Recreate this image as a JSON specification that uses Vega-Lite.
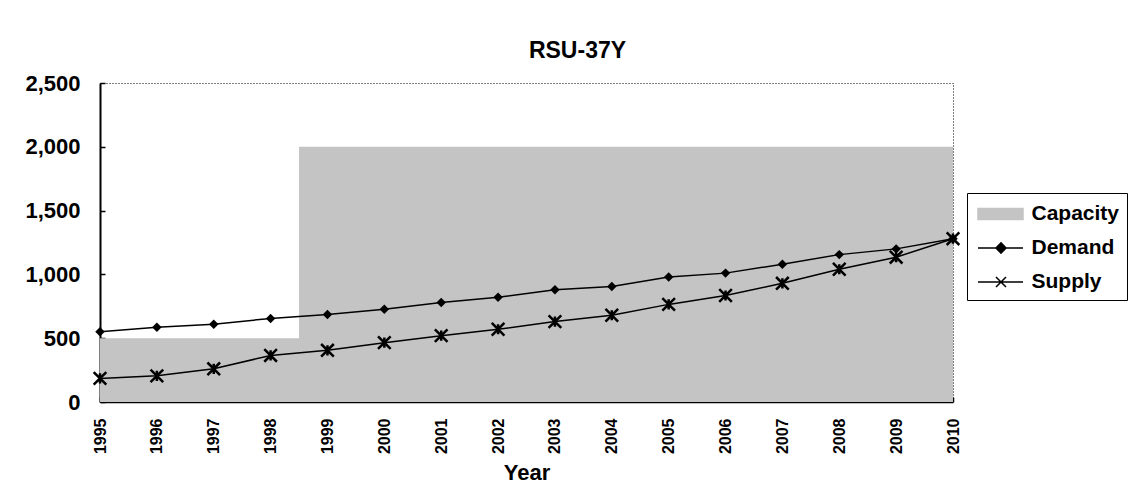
{
  "$schema": "https://vega.github.io/schema/vega-lite/v6.json",
  "width": 853,
  "height": 319,
  "autosize": {"type": "none"},
  "padding": {"left": 100, "top": 83, "right": 185, "bottom": 98},
  "background": "white",
  "title": {
    "text": "RSU-37Y",
    "font": "Liberation Sans",
    "fontWeight": "bold",
    "fontSize": 23,
    "color": "black",
    "anchor": "middle",
    "dx": 51,
    "baseline": "alphabetic",
    "offset": -9
  },
  "config": {
    "view": {"stroke": "black", "strokeDash": [1, 2], "strokeWidth": 1},
    "font": "Liberation Sans"
  },
  "data": {
    "values": [
      {"year": 1995, "series": "Capacity", "value": 500},
      {"year": 1996, "series": "Capacity", "value": 500},
      {"year": 1997, "series": "Capacity", "value": 500},
      {"year": 1998, "series": "Capacity", "value": 500},
      {"year": 1999, "series": "Capacity", "value": 2000},
      {"year": 2000, "series": "Capacity", "value": 2000},
      {"year": 2001, "series": "Capacity", "value": 2000},
      {"year": 2002, "series": "Capacity", "value": 2000},
      {"year": 2003, "series": "Capacity", "value": 2000},
      {"year": 2004, "series": "Capacity", "value": 2000},
      {"year": 2005, "series": "Capacity", "value": 2000},
      {"year": 2006, "series": "Capacity", "value": 2000},
      {"year": 2007, "series": "Capacity", "value": 2000},
      {"year": 2008, "series": "Capacity", "value": 2000},
      {"year": 2009, "series": "Capacity", "value": 2000},
      {"year": 2010, "series": "Capacity", "value": 2000},
      {"year": 1995, "series": "Demand", "value": 550},
      {"year": 1996, "series": "Demand", "value": 585},
      {"year": 1997, "series": "Demand", "value": 610},
      {"year": 1998, "series": "Demand", "value": 655},
      {"year": 1999, "series": "Demand", "value": 685},
      {"year": 2000, "series": "Demand", "value": 727},
      {"year": 2001, "series": "Demand", "value": 780},
      {"year": 2002, "series": "Demand", "value": 820},
      {"year": 2003, "series": "Demand", "value": 880},
      {"year": 2004, "series": "Demand", "value": 905},
      {"year": 2005, "series": "Demand", "value": 980},
      {"year": 2006, "series": "Demand", "value": 1010},
      {"year": 2007, "series": "Demand", "value": 1080},
      {"year": 2008, "series": "Demand", "value": 1155},
      {"year": 2009, "series": "Demand", "value": 1200},
      {"year": 2010, "series": "Demand", "value": 1280},
      {"year": 1995, "series": "Supply", "value": 185},
      {"year": 1996, "series": "Supply", "value": 205},
      {"year": 1997, "series": "Supply", "value": 260},
      {"year": 1998, "series": "Supply", "value": 365},
      {"year": 1999, "series": "Supply", "value": 405},
      {"year": 2000, "series": "Supply", "value": 465},
      {"year": 2001, "series": "Supply", "value": 520},
      {"year": 2002, "series": "Supply", "value": 570},
      {"year": 2003, "series": "Supply", "value": 630},
      {"year": 2004, "series": "Supply", "value": 680},
      {"year": 2005, "series": "Supply", "value": 765},
      {"year": 2006, "series": "Supply", "value": 835},
      {"year": 2007, "series": "Supply", "value": 930},
      {"year": 2008, "series": "Supply", "value": 1040},
      {"year": 2009, "series": "Supply", "value": 1135},
      {"year": 2010, "series": "Supply", "value": 1280}
    ]
  },
  "encoding": {
    "x": {
      "field": "year",
      "type": "quantitative",
      "scale": {"domain": [1995, 2010], "nice": false, "zero": false},
      "axis": {
        "values": [1995, 1996, 1997, 1998, 1999, 2000, 2001, 2002, 2003, 2004, 2005, 2006, 2007, 2008, 2009, 2010],
        "format": "d",
        "labelAngle": -90,
        "labelFont": "Liberation Sans",
        "labelFontWeight": "bold",
        "labelFontSize": 16,
        "labelColor": "black",
        "labelPadding": 21,
        "labelFlush": false,
        "labelOverlap": false,
        "ticks": true,
        "tickSize": -5,
        "tickColor": "black",
        "tickWidth": 1.5,
        "grid": false,
        "domainColor": "black",
        "domainWidth": 1.5,
        "title": "Year",
        "titleFont": "Liberation Sans",
        "titleFontWeight": "bold",
        "titleFontSize": 22,
        "titleColor": "black",
        "titleBaseline": "alphabetic",
        "titleY": 77
      }
    },
    "y": {
      "field": "value",
      "type": "quantitative",
      "scale": {"domain": [0, 2500], "nice": false},
      "axis": {
        "values": [0, 500, 1000, 1500, 2000, 2500],
        "format": ",.0f",
        "labelFont": "Liberation Sans",
        "labelFontWeight": "bold",
        "labelFontSize": 22,
        "labelColor": "black",
        "labelPadding": 25,
        "ticks": true,
        "tickSize": -5,
        "tickColor": "black",
        "tickWidth": 1.5,
        "grid": false,
        "domainColor": "black",
        "domainWidth": 2,
        "title": null
      }
    }
  },
  "layer": [
    {
      "transform": [{"filter": "datum.series === 'Capacity'"}],
      "mark": {"type": "area", "interpolate": "step", "color": "#c4c4c4"}
    },
    {
      "transform": [{"filter": "datum.series !== 'Capacity'"}],
      "mark": {"type": "line", "color": "black", "strokeWidth": 1.5},
      "encoding": {"detail": {"field": "series"}}
    },
    {
      "transform": [{"filter": "datum.series === 'Demand'"}],
      "mark": {"type": "point", "shape": "diamond", "filled": true, "color": "black", "size": 90, "opacity": 1}
    },
    {
      "transform": [{"filter": "datum.series === 'Supply'"}],
      "mark": {"type": "point", "shape": "M-1,-1L1,1M-1,1L1,-1M0,-0.8V0.8", "filled": false, "color": "black", "strokeWidth": 2.5, "size": 160, "opacity": 1}
    },
    {
      "mark": {"type": "point", "filled": true, "opacity": 0},
      "encoding": {
        "shape": {
          "field": "series",
          "type": "nominal",
          "scale": {
            "domain": ["Capacity", "Demand", "Supply"],
            "range": [
              "M-0.8,-0.44H2.8V0.44H-0.8Z",
              "M-0.8,0H2.8M1.04,-0.42L1.44,0L1.04,0.42L0.64,0Z",
              "M-0.8,0H2.8M0.64,-0.4L1.44,0.4M0.64,0.4L1.44,-0.4"
            ]
          },
          "legend": {
            "title": null,
            "orient": "none",
            "legendX": 867,
            "legendY": 110,
            "symbolSize": 625,
            "symbolOpacity": 1,
            "symbolStrokeWidth": 1.5,
            "labelFont": "Liberation Sans",
            "labelFontWeight": "bold",
            "labelFontSize": 21,
            "labelColor": "black",
            "labelOffset": 30,
            "rowPadding": 10,
            "padding": 7.5,
            "strokeColor": "black",
            "fillColor": "white"
          }
        },
        "fill": {
          "field": "series",
          "type": "nominal",
          "scale": {"domain": ["Capacity", "Demand", "Supply"], "range": ["#c4c4c4", "black", "black"]}
        },
        "stroke": {
          "field": "series",
          "type": "nominal",
          "scale": {"domain": ["Capacity", "Demand", "Supply"], "range": ["#c4c4c4", "black", "black"]}
        }
      }
    }
  ]
}
